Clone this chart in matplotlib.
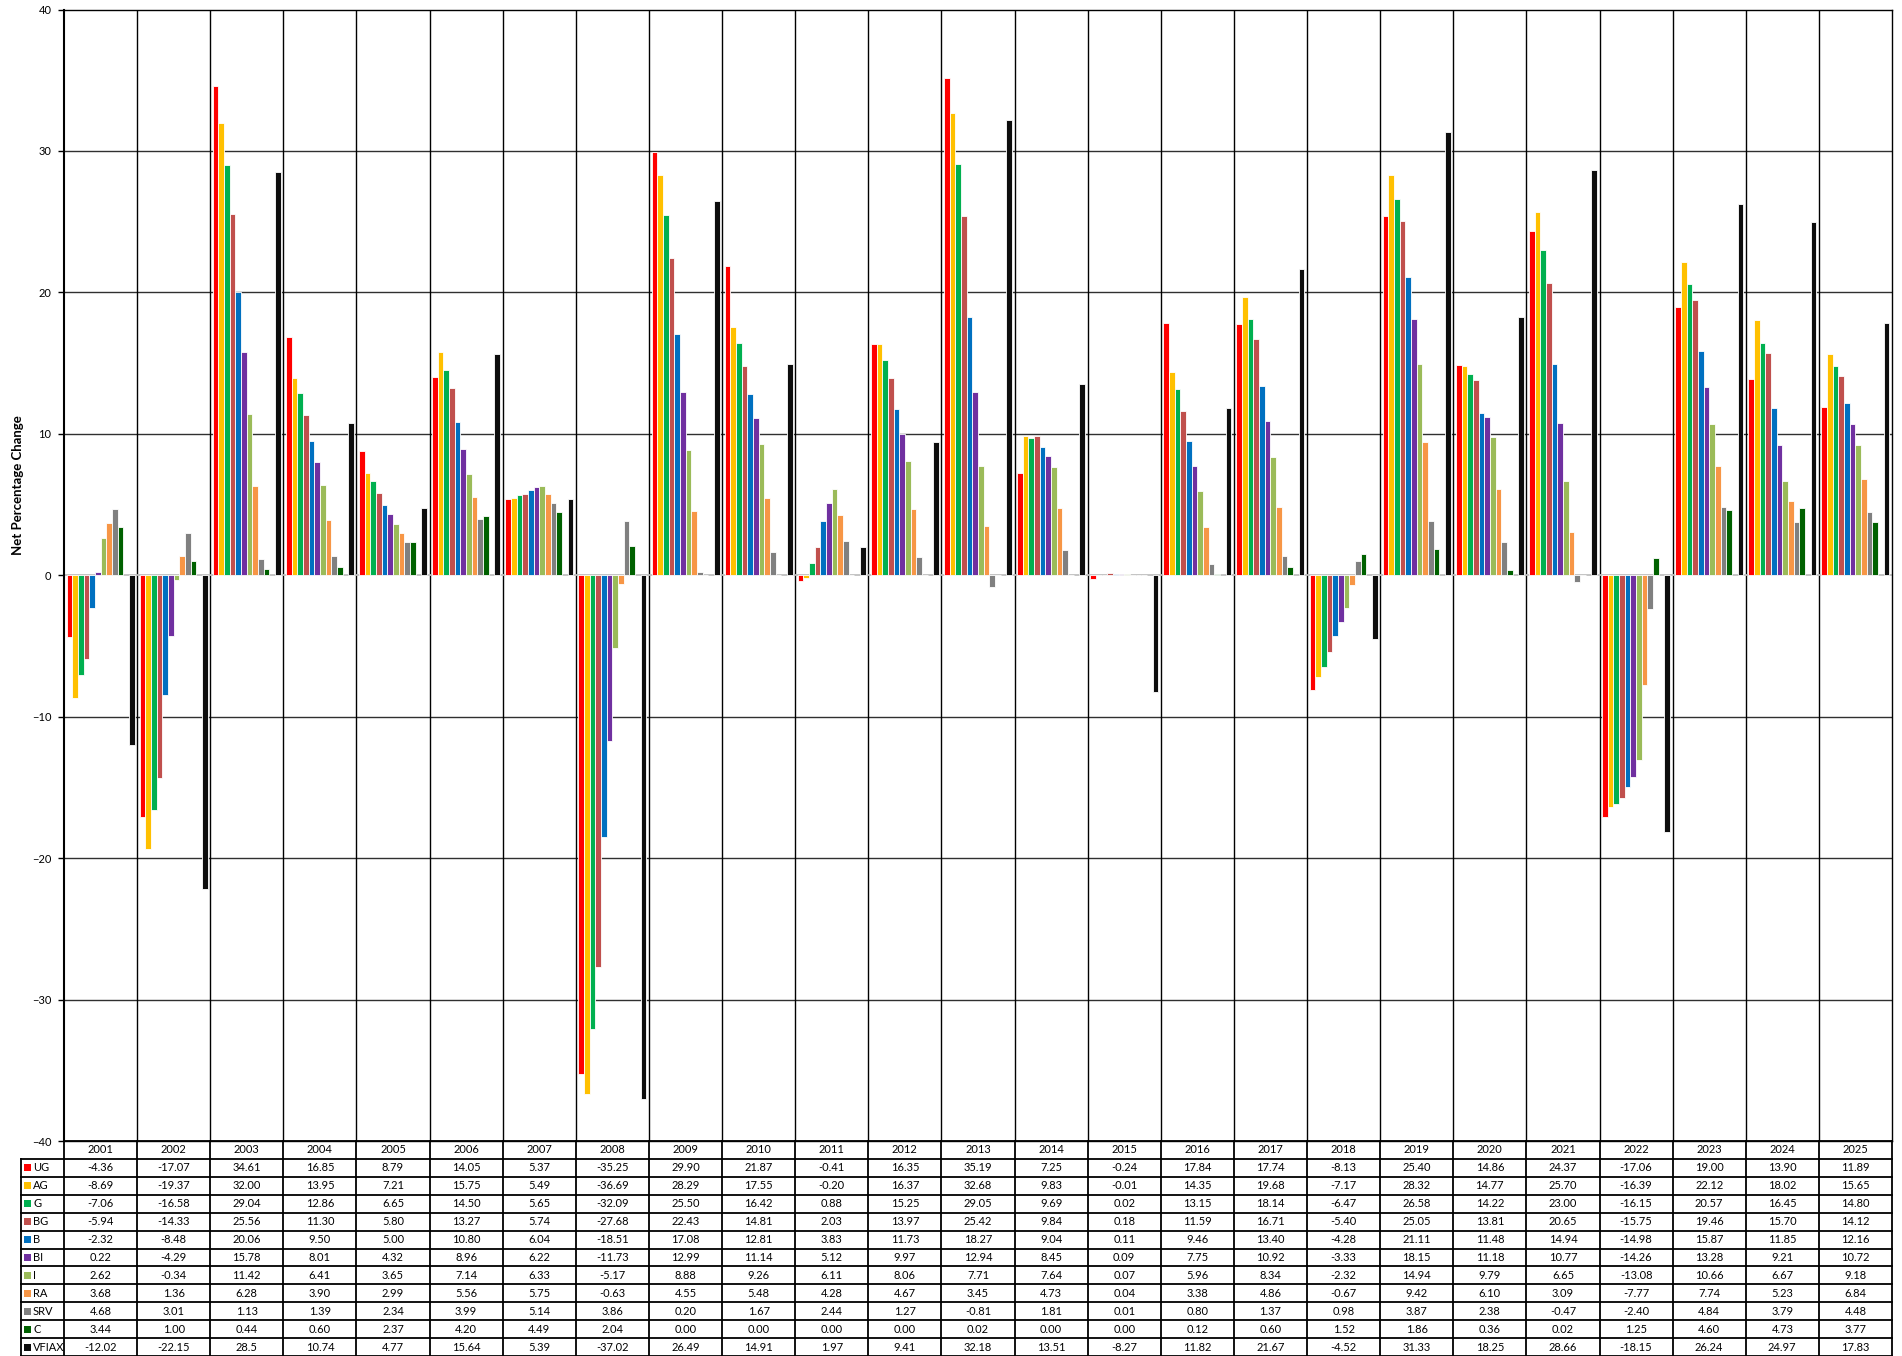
import matplotlib
matplotlib.use("Agg")
import matplotlib.pyplot as plt
from matplotlib.patches import Rectangle
import numpy as np

years = [str(y) for y in range(2001, 2026)]
series_names = ["UG", "AG", "G", "BG", "B", "BI", "I", "RA", "SRV", "C", "VFIAX"]
colors = ["#FF0000", "#FFC000", "#00B050", "#C0504D", "#0070C0", "#7030A0",
          "#9BBB59", "#F79646", "#808080", "#006100", "#0D0D0D"]

UG = [-4.36, -17.07, 34.61, 16.85, 8.79, 14.05, 5.37, -35.25, 29.90, 21.87, -0.41, 16.35, 35.19, 7.25, -0.24, 17.84, 17.74, -8.13, 25.40, 14.86, 24.37, -17.06, 19.00, 13.90, 11.89]
AG = [-8.69, -19.37, 32.00, 13.95, 7.21, 15.75, 5.49, -36.69, 28.29, 17.55, -0.20, 16.37, 32.68, 9.83, -0.01, 14.35, 19.68, -7.17, 28.32, 14.77, 25.70, -16.39, 22.12, 18.02, 15.65]
G = [-7.06, -16.58, 29.04, 12.86, 6.65, 14.50, 5.65, -32.09, 25.50, 16.42, 0.88, 15.25, 29.05, 9.69, 0.02, 13.15, 18.14, -6.47, 26.58, 14.22, 23.00, -16.15, 20.57, 16.45, 14.80]
BG = [-5.94, -14.33, 25.56, 11.30, 5.80, 13.27, 5.74, -27.68, 22.43, 14.81, 2.03, 13.97, 25.42, 9.84, 0.18, 11.59, 16.71, -5.40, 25.05, 13.81, 20.65, -15.75, 19.46, 15.70, 14.12]
B = [-2.32, -8.48, 20.06, 9.50, 5.00, 10.80, 6.04, -18.51, 17.08, 12.81, 3.83, 11.73, 18.27, 9.04, 0.11, 9.46, 13.40, -4.28, 21.11, 11.48, 14.94, -14.98, 15.87, 11.85, 12.16]
BI = [0.22, -4.29, 15.78, 8.01, 4.32, 8.96, 6.22, -11.73, 12.99, 11.14, 5.12, 9.97, 12.94, 8.45, 0.09, 7.75, 10.92, -3.33, 18.15, 11.18, 10.77, -14.26, 13.28, 9.21, 10.72]
I = [2.62, -0.34, 11.42, 6.41, 3.65, 7.14, 6.33, -5.17, 8.88, 9.26, 6.11, 8.06, 7.71, 7.64, 0.07, 5.96, 8.34, -2.32, 14.94, 9.79, 6.65, -13.08, 10.66, 6.67, 9.18]
RA = [3.68, 1.36, 6.28, 3.90, 2.99, 5.56, 5.75, -0.63, 4.55, 5.48, 4.28, 4.67, 3.45, 4.73, 0.04, 3.38, 4.86, -0.67, 9.42, 6.10, 3.09, -7.77, 7.74, 5.23, 6.84]
SRV = [4.68, 3.01, 1.13, 1.39, 2.34, 3.99, 5.14, 3.86, 0.20, 1.67, 2.44, 1.27, -0.81, 1.81, 0.01, 0.80, 1.37, 0.98, 3.87, 2.38, -0.47, -2.40, 4.84, 3.79, 4.48]
C = [3.44, 1.00, 0.44, 0.60, 2.37, 4.20, 4.49, 2.04, 0.00, 0.00, 0.00, 0.00, 0.02, 0.00, 0.00, 0.12, 0.60, 1.52, 1.86, 0.36, 0.02, 1.25, 4.60, 4.73, 3.77]
VFIAX = [-12.02, -22.15, 28.5, 10.74, 4.77, 15.64, 5.39, -37.02, 26.49, 14.91, 1.97, 9.41, 32.18, 13.51, -8.27, 11.82, 21.67, -4.52, 31.33, 18.25, 28.66, -18.15, 26.24, 24.97, 17.83]

data = [UG, AG, G, BG, B, BI, I, RA, SRV, C, VFIAX]
slots = [0, 1, 2, 3, 4, 5, 6, 7, 8, 9, 11]  # slot 10 left empty

W, H = 1902, 1356
fig = plt.figure(figsize=(W / 100, H / 100), dpi=100)

# plot area in pixels
px_left, px_right, px_top, px_bot = 64, 1892, 9.5, 1141
ax = fig.add_axes([px_left / W, (H - px_bot) / H, (px_right - px_left) / W, (px_bot - px_top) / H])

n = len(years)
x0 = np.arange(n)
span = 0.93
nslots = 12
w = span / nslots
for vals, col, s in zip(data, colors, slots):
    xs = x0 + (1 - span) / 2 + (s + 0.5) * w
    ax.bar(xs, vals, width=w, color=col, edgecolor="white", linewidth=0.6, zorder=3)

ax.set_xlim(0, n)
ax.set_ylim(-40, 40)
ax.set_yticks(np.arange(-40, 41, 10))
ax.set_xticks([])
ax.tick_params(axis="y", direction="out", length=4, width=1, labelsize=8, pad=5, colors="#000000")
for lab in ax.get_yticklabels():
    lab.set_family("Lato")
for yv in range(-30, 40, 10):
    if yv == 0:
        continue
    ax.axhline(yv, color="#303030", lw=1.0, zorder=1)
ax.axhline(0, color="#BFBFBF", lw=1.3, zorder=2)
for xv in range(1, n):
    ax.axvline(xv, color="#000000", lw=1.0, zorder=1)
for side in ["top", "right", "bottom"]:
    ax.spines[side].set_linewidth(1.0)
    ax.spines[side].set_color("#000000")
ax.spines["left"].set_linewidth(1.5)
ax.set_ylabel("Net Percentage Change", fontsize=9.5, fontweight="bold", family="Lato")
ax.yaxis.set_label_coords((24 - px_left) / (px_right - px_left), (px_bot - 485) / (px_bot - px_top))

# data table
tab_left = 21
ux = (px_right - px_left) / n  # pixels per category
tx0 = -(px_left - tab_left) / ux
tax = fig.add_axes([tab_left / W, 0, (px_right - tab_left) / W, (H - px_bot) / H])
tax.set_xlim(tx0, n)
nrows = len(series_names) + 1
tax.set_ylim(nrows, 0)
tax.axis("off")

lc = "#000000"
lw = 1.3
tax.plot([0, n], [0, 0], color=lc, lw=lw, clip_on=False)
for r in range(1, nrows + 1):
    tax.plot([tx0, n], [r, r], color=lc, lw=lw, clip_on=False)
for c in range(0, n + 1):
    tax.plot([c, c], [0, nrows], color=lc, lw=lw, clip_on=False)
tax.plot([tx0, tx0], [1, nrows], color=lc, lw=lw, clip_on=False)

tfont = dict(family="Lato", fontsize=8, color="#000000")
for j, yr in enumerate(years):
    tax.text(j + 0.5, 0.5, yr, ha="center", va="center", **tfont)

key_w = 7 / ux
key_h = 7 / ((H - px_bot) / nrows)
key_x = -(px_left - 24) / ux
lab_x = -(px_left - 33) / ux
for i, (name, col, vals) in enumerate(zip(series_names, colors, data)):
    r = i + 1
    tax.add_patch(Rectangle((key_x, r + 0.5 - key_h / 2), key_w, key_h, facecolor=col, edgecolor="none"))
    tax.text(lab_x, r + 0.5, name, ha="left", va="center", **tfont)
    for j, v in enumerate(vals):
        s = str(v) if name == "VFIAX" else f"{v:.2f}"
        tax.text(j + 0.5, r + 0.5, s, ha="center", va="center", **tfont)

fig.savefig("out.png", dpi=100)
